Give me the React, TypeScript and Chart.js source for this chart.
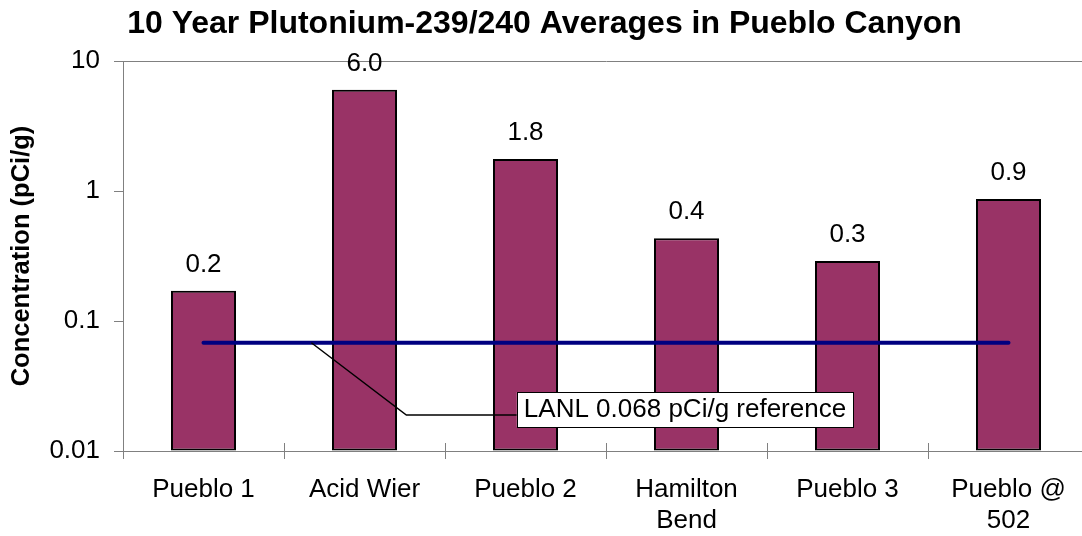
import React, { useEffect, useRef } from "react";
import { Chart, registerables } from "chart.js";

Chart.register(...registerables);

// ---- data ----
const categories: (string | string[])[] = [
  "Pueblo 1",
  "Acid Wier",
  "Pueblo 2",
  ["Hamilton", "Bend"],
  "Pueblo 3",
  ["Pueblo @", "502"],
];
const averages: number[] = [0.171, 6.0, 1.76, 0.434, 0.29, 0.867];
const referenceLevel = 0.068;
const yTicks: number[] = [0.01, 0.1, 1, 10];
const yTickLabels: string[] = ["0.01", "0.1", "1", "10"];
const titleText = "10 Year Plutonium-239/240 Averages in Pueblo Canyon";
const yAxisTitle = "Concentration (pCi/g)";
const referenceLabel = "LANL 0.068 pCi/g reference";

const FONT = "'Liberation Sans', Arial, Helvetica, sans-serif";

export default function App() {
  const canvasRef = useRef<HTMLCanvasElement | null>(null);

  useEffect(() => {
    const canvas = canvasRef.current;
    if (!canvas) return;

    const xTicksPlugin = {
      id: "xTicks",
      afterDraw(chart: any) {
        const ctx = chart.ctx;
        const xs = chart.scales.x;
        const y = chart.chartArea.bottom;
        const n = categories.length;
        const xsPix: number[] = [];
        for (let i = 0; i < n; i++) xsPix.push(xs.getPixelForValue(i));
        const step = n > 1 ? xsPix[1] - xsPix[0] : xs.width;
        ctx.save();
        ctx.strokeStyle = "#808080";
        ctx.lineWidth = 1;
        for (let i = 0; i <= n; i++) {
          const x = Math.round(xsPix[0] - step / 2 + i * step) + 0.5;
          ctx.beginPath();
          ctx.moveTo(x, y - 8);
          ctx.lineTo(x, y + 8);
          ctx.stroke();
        }
        ctx.restore();
      },
    };

    const valueLabelsPlugin = {
      id: "valueLabels",
      afterDatasetsDraw(chart: any) {
        const ctx = chart.ctx;
        const meta = chart.getDatasetMeta(1);
        ctx.save();
        ctx.font = `26px ${FONT}`;
        ctx.fillStyle = "#000";
        ctx.textAlign = "center";
        ctx.textBaseline = "alphabetic";
        meta.data.forEach((bar: any, i: number) => {
          ctx.fillText(averages[i].toFixed(1), bar.x, bar.y - 19);
        });
        ctx.restore();
      },
    };

    const annotationPlugin = {
      id: "refAnnotation",
      afterDraw(chart: any) {
        const ctx = chart.ctx;
        const xs = chart.scales.x;
        const ys = chart.scales.y;
        const c0 = xs.getPixelForValue(0);
        const step = xs.getPixelForValue(1) - c0;
        const lineY = ys.getPixelForValue(referenceLevel);
        const startX = c0 + 0.67 * step;
        const elbowX = c0 + 1.26 * step;
        const elbowY = ys.getPixelForValue(0.0189);

        ctx.save();
        ctx.font = `26px ${FONT}`;
        const tw = ctx.measureText(referenceLabel).width;
        const boxW = tw + 14;
        const boxH = 35;
        const boxCx = xs.getPixelForValue(3) - 1.5;
        const boxCy = ys.getPixelForValue(0.02085);
        const boxL = boxCx - boxW / 2;
        const boxT = boxCy - boxH / 2;

        ctx.strokeStyle = "#000";
        ctx.lineWidth = 1.5;
        ctx.beginPath();
        ctx.moveTo(startX, lineY);
        ctx.lineTo(elbowX, elbowY);
        ctx.lineTo(boxL, elbowY);
        ctx.stroke();

        ctx.fillStyle = "#fff";
        ctx.fillRect(boxL, boxT, boxW, boxH);
        ctx.lineWidth = 1;
        ctx.strokeRect(Math.round(boxL) + 0.5, Math.round(boxT) + 0.5, Math.round(boxW), Math.round(boxH));
        ctx.fillStyle = "#000";
        ctx.textAlign = "center";
        ctx.textBaseline = "alphabetic";
        ctx.fillText(referenceLabel, boxCx, boxCy + 7);
        ctx.restore();
      },
    };

    const chart = new Chart(canvas, {
      type: "bar",
      data: {
        labels: categories as any,
        datasets: [
          {
            type: "line",
            label: "LANL reference",
            data: categories.map(() => referenceLevel),
            borderColor: "#000080",
            backgroundColor: "#000080",
            borderWidth: 4,
            borderCapStyle: "round",
            pointRadius: 0,
            pointHoverRadius: 0,
            tension: 0,
            fill: false,
            order: 0,
          } as any,
          {
            type: "bar",
            label: "10 year average",
            data: averages,
            backgroundColor: "#993366",
            borderColor: "#000000",
            borderWidth: 2,
            borderSkipped: false,
            barPercentage: 0.404,
            categoryPercentage: 1,
            base: 0.01,
            order: 1,
          } as any,
        ],
      },
      options: {
        responsive: false,
        animation: false,
        devicePixelRatio: 1,
        layout: { padding: { left: 0, right: 1, top: 0, bottom: 0 } },
        plugins: {
          legend: { display: false },
          tooltip: { enabled: false },
          title: {
            display: true,
            text: titleText,
            color: "#000",
            font: { family: FONT, size: 32, weight: "bold" },
            padding: { top: 5.1, bottom: 17.5 },
          },
        },
        scales: {
          x: {
            type: "category",
            offset: true,
            grid: { offset: true, drawOnChartArea: false, drawTicks: false },
            border: { color: "#808080", width: 1 },
            ticks: {
              color: "#000",
              font: { family: FONT, size: 26 },
              padding: 23,
              autoSkip: false,
              maxRotation: 0,
              minRotation: 0,
            },
            afterFit: (s: any) => {
              s.height = 85;
            },
          },
          y: {
            type: "logarithmic",
            min: 0.01,
            max: 10,
            afterBuildTicks: (s: any) => {
              s.ticks = yTicks.map((v) => ({ value: v }));
            },
            ticks: {
              color: "#000",
              font: { family: FONT, size: 26 },
              padding: 14,
              callback: (v: any) => {
                const i = yTicks.indexOf(Number(v));
                return i >= 0 ? yTickLabels[i] : "";
              },
            },
            grid: {
              drawOnChartArea: true,
              color: (c: any) => (c.tick && c.tick.value === 10 ? "#808080" : "rgba(0,0,0,0)"),
              tickColor: "#808080",
              tickLength: 9,
            },
            border: { color: "#808080", width: 1 },
            title: {
              display: true,
              text: yAxisTitle,
              color: "#000",
              font: { family: FONT, size: 25.5, weight: "bold" },
              padding: { top: 7, bottom: 0 },
            },
            afterFit: (s: any) => {
              s.width = 123;
            },
          },
        },
      },
      plugins: [xTicksPlugin, valueLabelsPlugin, annotationPlugin],
    });

    return () => {
      chart.destroy();
    };
  }, []);

  return (
    <div
      style={{
        position: "absolute",
        left: 0,
        top: 0,
        width: 1082,
        height: 536,
        overflow: "hidden",
        background: "#fff",
      }}
    >
      <canvas ref={canvasRef} width={1090} height={536} style={{ display: "block" }} />
    </div>
  );
}
